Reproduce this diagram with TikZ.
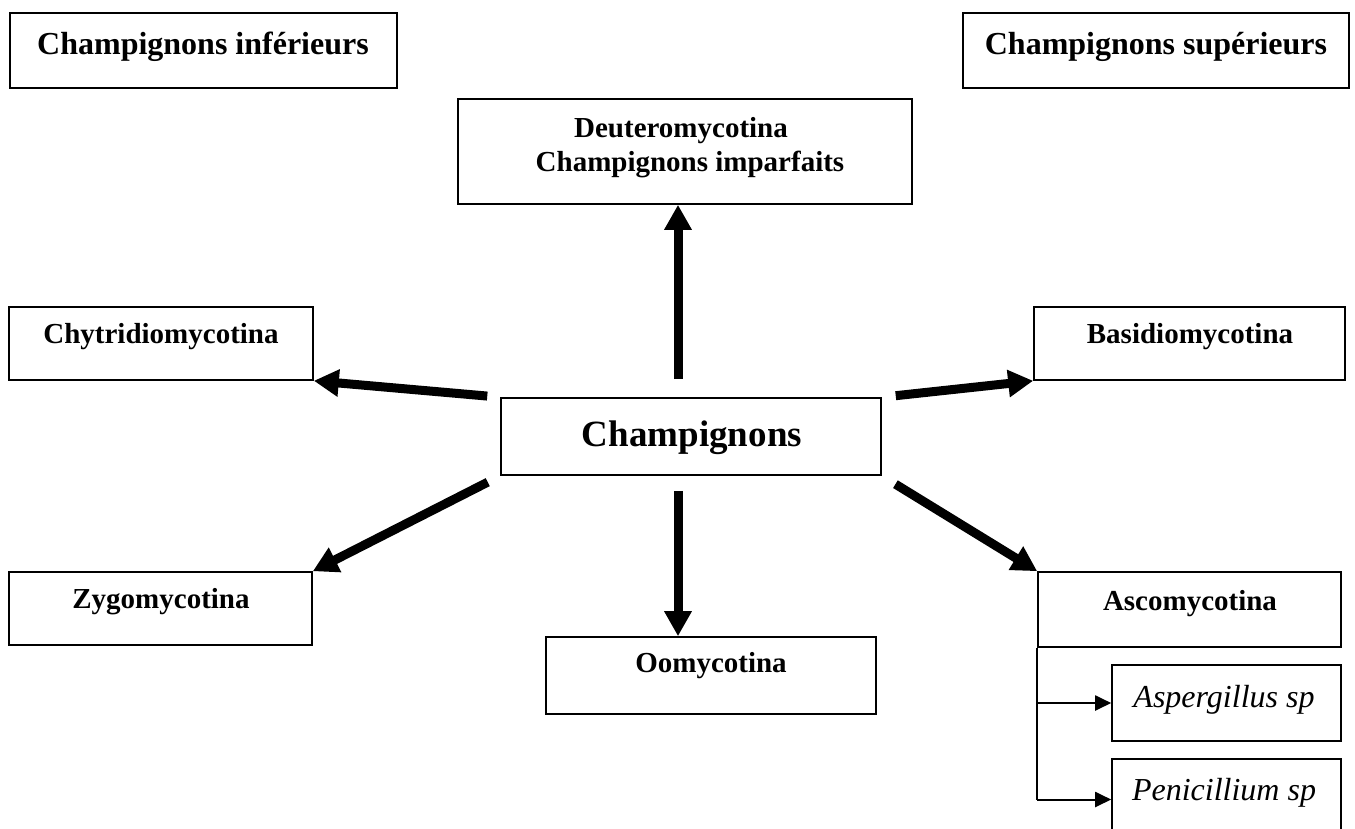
\documentclass[tikz,border=0pt]{standalone}
\usepackage{fontspec}
\setmainfont{Liberation Serif}
\usetikzlibrary{arrows.meta,fit}
\begin{document}
\begin{tikzpicture}[x=1pt,y=-1pt,
  box/.style={draw, line width=1.6pt, inner sep=0pt},
  hdr/.style={font=\fontsize{32}{38}\selectfont\bfseries, inner sep=0pt, anchor=base},
  lbl/.style={font=\fontsize{29}{34}\selectfont\bfseries, inner sep=0pt, anchor=base},
  big/.style={font=\fontsize{37}{44}\selectfont\bfseries, inner sep=0pt, anchor=base},
  ital/.style={font=\fontsize{32}{38}\selectfont\itshape, inner sep=0pt, anchor=base},
  fat/.style={line width=9pt, -{Triangle[length=25pt,width=26pt]}},
  slim/.style={line width=2pt, -{Triangle[length=16pt,width=15pt]}}]
\useasboundingbox (0,0) rectangle (1355,828);
% boxes
\node[box, fit={(10,13) (397,88)}] (inf) {};
\node[box, fit={(963,13) (1349,88)}] (sup) {};
\node[box, fit={(458,99) (912,204)}] (deut) {};
\node[box, fit={(9,307) (313,380)}] (chyt) {};
\node[box, fit={(1034,307) (1345,380)}] (basi) {};
\node[box, fit={(501,398) (881,475)}] (champ) {};
\node[box, fit={(9,572) (312,645)}] (zygo) {};
\node[box, fit={(546,637) (876,714)}] (oomy) {};
\node[box, fit={(1038,572) (1341,647)}] (asco) {};
\node[box, fit={(1112,665) (1341,741)}] (aspe) {};
\node[box, fit={(1112,759) (1341,840)}] (peni) {};
% texts
\node[hdr] (inf-t) at (203,54) {Champignons inférieurs};
\node[hdr] (sup-t) at (1156,54) {Champignons supérieurs};
\node[lbl] (deut-t1) at (681,137) {Deuteromycotina};
\node[lbl] (deut-t2) at (690,171) {Champignons imparfaits};
\node[lbl] (chyt-t) at (161,343) {Chytridiomycotina};
\node[lbl] (basi-t) at (1190,343) {Basidiomycotina};
\node[big] (champ-t) at (692,446) {Champignons};
\node[lbl] (zygo-t) at (161,608) {Zygomycotina};
\node[lbl] (oomy-t) at (711,672) {Oomycotina};
\node[lbl] (asco-t) at (1190,610) {Ascomycotina};
\node[ital] (aspe-t) at (1224,707) {Aspergillus sp};
\node[ital] (peni-t) at (1224,800) {Penicillium sp};
% connectors
\coordinate (ax) at (678,0);
\draw[fat, shorten <=18pt] (champ.north -| ax) -- (deut.south -| ax);
\draw[fat, shorten <=15pt] (champ.south -| ax) -- (oomy.north -| ax);
\draw[fat, shorten <=13pt] (champ.north west) -- (chyt.south east);
\draw[fat, shorten <=14pt] (champ.north east) -- (basi.south west);
\draw[fat, shorten <=14pt] (champ.south west) -- (zygo.north east);
\draw[fat, shorten <=16pt] (champ.south east) -- (asco.north west);
\draw[line width=2pt] (asco.south west) -- (asco.south west |- peni.west);
\draw[slim] (asco.south west |- aspe.west) -- (aspe.west);
\draw[slim] (asco.south west |- peni.west) -- (peni.west);
\end{tikzpicture}
\end{document}
